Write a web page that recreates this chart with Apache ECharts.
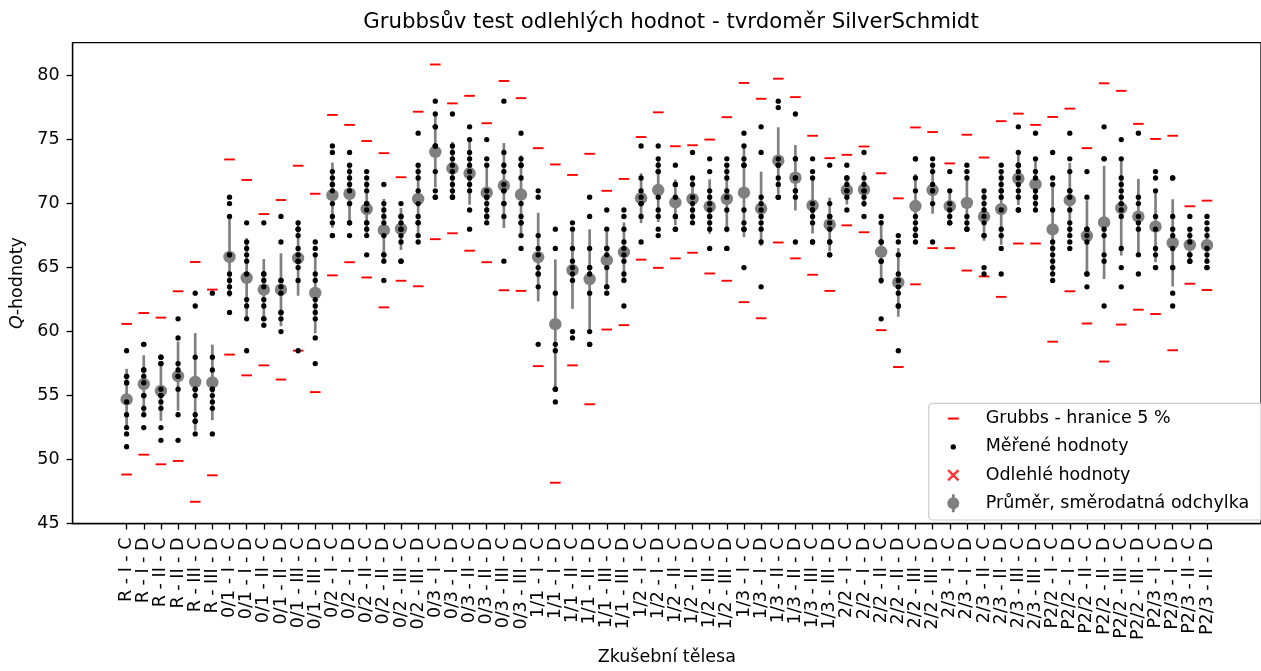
<!DOCTYPE html>
<html>
<head>
<meta charset="utf-8">
<title>Grubbsův test odlehlých hodnot</title>
<script src="https://cdn.jsdelivr.net/npm/echarts@6.0.0/dist/echarts.min.js"></script>
<style>
  html, body { margin: 0; padding: 0; background: #fff; }
  #chart { width: 1261px; height: 671px; }
</style>
</head>
<body>
<div id="chart"></div>
<script>
// zkušební tělesa ----------------------------------------------------------
var categories = [
  'R - I - C', 'R - I - D', 'R - II - C', 'R - II - D', 'R - III - C', 'R - III - D',
  '0/1 - I - C', '0/1 - I - D', '0/1 - II - C', '0/1 - II - D', '0/1 - III - C', '0/1 - III - D',
  '0/2 - I - C', '0/2 - I - D', '0/2 - II - C', '0/2 - II - D', '0/2 - III - C', '0/2 - III - D',
  '0/3 - I - C', '0/3 - I - D', '0/3 - II - C', '0/3 - II - D', '0/3 - III - C', '0/3 - III - D',
  '1/1 - I - C', '1/1 - I - D', '1/1 - II - C', '1/1 - II - D', '1/1 - III - C', '1/1 - III - D',
  '1/2 - I - C', '1/2 - I - D', '1/2 - II - C', '1/2 - II - D', '1/2 - III - C', '1/2 - III - D',
  '1/3 - I - C', '1/3 - I - D', '1/3 - II - C', '1/3 - II - D', '1/3 - III - C', '1/3 - III - D',
  '2/2 - I - C', '2/2 - I - D', '2/2 - II - C', '2/2 - II - D', '2/2 - III - C', '2/2 - III - D',
  '2/3 - I - C', '2/3 - I - D', '2/3 - II - C', '2/3 - II - D', '2/3 - III - C', '2/3 - III - D',
  'P2/2 - I - C', 'P2/2 - I - D', 'P2/2 - II - C', 'P2/2 - II - D', 'P2/2 - III - C', 'P2/2 - III - D',
  'P2/3 - I - C', 'P2/3 - I - D', 'P2/3 - II - C', 'P2/3 - II - D'
];

// naměřené Q-hodnoty pro každé těleso
var measured = [
  [58.5, 56.5, 56.5, 56, 56, 54.5, 53.5, 52.5, 52, 51],
  [59, 59, 57, 57, 56.5, 56, 55, 55, 54, 53.5, 52.5],
  [58, 58, 57.5, 57.5, 55.5, 55, 55, 54.5, 54, 52.5, 51.5],
  [61, 59.5, 57.5, 57, 56.5, 56.5, 55.5, 53.5, 51.5],
  [63, 62, 58, 55.5, 55.5, 55, 53.5, 53, 53, 52],
  [63, 58, 57, 55.5, 55.5, 55, 54.5, 54, 52],
  [70.5, 70, 69, 66, 66, 64.5, 64, 63.5, 63, 61.5],
  [68.5, 67, 66.5, 66, 65.5, 64.5, 62.5, 62, 61, 58.5],
  [68.5, 64.5, 64.5, 64, 63.5, 62.5, 62, 61, 61, 60.5],
  [69, 67, 64, 64, 63.5, 63, 61.5, 61.5, 61, 60],
  [68.5, 68, 68, 67.5, 66.5, 66, 65.5, 65.5, 65, 64, 58.5],
  [67, 66.5, 66, 64.5, 64, 62.5, 62, 61.5, 61, 59.5, 57.5],
  [74.5, 74, 72.5, 72, 71.5, 71.5, 71, 70, 69, 68.5, 67.5, 67.5],
  [74, 73, 72.5, 72, 71.5, 71, 70, 70, 68.5, 68.5, 67.5],
  [72.5, 72, 71.5, 71, 70, 70, 69.5, 68.5, 68.5, 68, 67.5, 66],
  [71.5, 70, 69.5, 69, 68.5, 67.5, 66, 66, 65.5, 64],
  [70, 69, 69, 68.5, 68, 68, 67.5, 67, 65.5, 65.5],
  [75.5, 73, 72.5, 72, 71, 70, 69, 68.5, 68.5, 67.5, 67],
  [78, 77, 76, 76, 74.5, 74.5, 72.5, 71, 70.5, 70.5],
  [77, 74.5, 74, 73.5, 73, 72.5, 72, 71.5, 71, 70.5, 70.5],
  [76, 75, 74, 73.5, 73, 72.5, 72, 71.5, 71, 69.5, 68],
  [75, 73.5, 73, 71, 70.5, 70.5, 70, 69.5, 69, 69, 68.5],
  [78, 74, 73, 72.5, 71.5, 71, 71, 70, 70, 69, 65.5],
  [75.5, 73.5, 73, 73, 72, 70, 69, 68.5, 68.5, 67.5, 66.5],
  [71, 70.5, 67.5, 66.5, 66, 65, 64.5, 64.5, 63.5, 59],
  [68, 66.5, 63, 59, 58.5, 55.5, 55.5, 54.5],
  [68.5, 68, 66.5, 65.5, 65, 64.5, 64, 60, 59.5],
  [70.5, 69, 66.5, 65, 65, 64.5, 63, 60, 59, 59],
  [69.5, 68, 66.5, 66.5, 66, 65, 63.5, 63.5, 63],
  [69.5, 69, 68, 67, 66.5, 66, 65.5, 64.5, 64, 62],
  [74.5, 72, 71, 70.5, 70, 70, 69, 67],
  [74.5, 73.5, 73, 72.5, 72.5, 70.5, 69.5, 69, 68, 67.5],
  [73, 71.5, 71.5, 70.5, 69, 69, 68, 68],
  [74, 72, 71.5, 70.5, 70, 69.5, 69, 68.5],
  [73.5, 72.5, 71, 70.5, 70, 69.5, 69, 69, 68.5, 68, 66.5],
  [73.5, 73, 72.5, 72, 71, 70.5, 69.5, 68, 66.5, 66.5],
  [75.5, 74.5, 73.5, 73, 73, 69.5, 68.5, 68, 68, 65],
  [76, 74, 70.5, 70, 69.5, 69, 68.5, 68, 67, 63.5],
  [78, 77.5, 73.5, 73, 73, 72, 71.5, 70.5, 70.5],
  [77, 73.5, 73.5, 72, 72, 71, 71, 70.5, 67],
  [73.5, 72.5, 72, 70, 69.5, 69.5, 69, 68.5, 67, 67],
  [73, 70, 69, 69, 68.5, 68, 67, 67, 66, 66],
  [73, 72, 72, 71.5, 71, 71, 70.5, 69.5],
  [74, 72, 71.5, 71, 71, 70.5, 70, 69],
  [69, 68.5, 67, 67, 65.5, 65.5, 64, 61],
  [67.5, 67, 66, 64.5, 64, 63.5, 63, 62, 62, 58.5],
  [73.5, 73.5, 72, 71, 69, 68.5, 68, 67.5, 67.5, 67],
  [73.5, 73, 72.5, 71.5, 71, 71, 70, 67],
  [72.5, 71, 70, 69.5, 69, 68.5, 68.5],
  [73, 72.5, 72, 69, 68.5, 68, 68],
  [71, 70.5, 70, 69.5, 69, 68.5, 67.5, 67.5, 65, 64.5],
  [73, 72.5, 72, 71.5, 71, 71, 70.5, 69.5, 68, 67.5, 66.5, 64.5],
  [76, 74, 73, 73, 72.5, 72, 71.5, 71, 70.5, 69.5, 69.5],
  [75.5, 73.5, 72.5, 72, 71, 70.5, 70.5, 70, 69.5],
  [74, 72, 71.5, 69.5, 67, 66.5, 66, 65.5, 65, 64.5, 64],
  [75.5, 73.5, 72.5, 71, 71, 70.5, 69.5, 68.5, 68, 67.5, 67, 66.5],
  [72.5, 70.5, 68, 68, 67.5, 67, 64.5, 64.5, 63.5],
  [76, 73.5, 73.5, 68, 67.5, 66, 65.5, 62],
  [75, 73.5, 72, 71.5, 71, 70.5, 70, 69.5, 69, 66.5, 65, 63.5],
  [75.5, 70.5, 70, 69, 68.5, 68, 66, 64.5],
  [72.5, 72, 71, 69, 68, 66.5, 66, 65, 65],
  [72, 72, 69, 68, 67.5, 66.5, 65, 65, 63, 62],
  [69, 68, 67.5, 67, 66, 66, 65.5, 65.5],
  [69, 68.5, 68, 67.5, 66.5, 66, 65.5, 65, 65]
];

// průměr a směrodatná odchylka
var means = [
  54.7, 55.9, 55.36, 56.52, 56.07, 56.03, 65.83, 64.2, 63.27, 63.27, 65.74, 63.02,
  70.66, 70.77, 69.57, 67.92, 68.02, 70.36, 74.04, 72.76, 72.37, 70.85, 71.41, 70.71,
  65.82, 60.58, 64.8, 64.1, 65.58, 66.21, 70.42, 71.06, 70.1, 70.36, 69.77, 70.36,
  70.86, 69.6, 73.36, 72.02, 69.86, 68.36, 71.05, 71.1, 66.22, 63.84, 69.81, 71.06,
  69.8, 70.06, 68.99, 69.57, 71.96, 71.52, 67.98, 70.27, 67.48, 68.53, 69.65, 68.98,
  68.2, 66.93, 66.77, 66.75
];
var stds = [
  2.39, 2.25, 2.33, 2.7, 3.81, 2.95, 3.1, 3.1, 2.4, 2.85, 2.94, 3.15,
  2.55, 2.18, 2.17, 2.45, 1.64, 2.77, 2.77, 2.06, 2.46, 2.21, 3.32, 3.06,
  3.46, 5.06, 3.02, 3.89, 2.2, 2.32, 1.95, 2.5, 1.78, 1.71, 2.13, 2.6,
  3.48, 2.9, 2.6, 2.56, 2.2, 2.1, 1.12, 1.36, 2.5, 2.68, 2.49, 1.85,
  1.35, 2.15, 1.89, 2.79, 2.06, 1.88, 3.57, 2.9, 2.78, 4.42, 3.71, 2.95,
  2.78, 3.41, 1.23, 1.42
];

// Grubbs - hranice 5 % (horní / dolní)
var grubbsHigh = [
  60.6, 61.45, 61.09, 63.15, 65.44, 63.28, 73.45, 71.85, 69.18, 70.28, 72.96, 70.77,
  76.93, 76.15, 74.89, 73.94, 72.06, 77.18, 80.87, 77.83, 78.42, 76.28, 79.58, 78.24,
  74.33, 73.06, 72.24, 73.89, 71.0, 71.93, 75.2, 77.13, 74.48, 74.56, 75.0, 76.75,
  79.43, 78.19, 79.76, 78.32, 75.3, 73.55, 73.81, 74.46, 72.37, 70.41, 75.95, 75.59,
  73.14, 75.38, 73.6, 76.44, 77.03, 76.15, 76.77, 77.42, 74.33, 79.4, 78.81, 76.23,
  75.05, 75.3, 69.79, 70.23
];
var grubbsLow = [
  48.83, 50.38, 49.63, 49.89, 46.7, 48.77, 58.2, 56.58, 57.36, 56.25, 58.51, 55.27,
  64.39, 65.42, 64.23, 61.89, 63.97, 63.54, 67.22, 67.68, 66.32, 65.42, 63.23, 63.18,
  57.3, 48.19, 57.36, 54.32, 60.16, 60.5, 65.62, 64.98, 65.72, 66.16, 64.54, 63.97,
  62.3, 61.04, 66.96, 65.72, 64.44, 63.18, 68.3, 67.76, 60.11, 57.23, 63.69, 66.52,
  66.52, 64.77, 64.31, 62.71, 66.88, 66.88, 59.21, 63.15, 60.63, 57.66, 60.55, 61.71,
  61.37, 58.54, 63.74, 63.25
];

// odlehlé hodnoty - žádné nalezeny
var outliers = [];

var yTicks = [45, 50, 55, 60, 65, 70, 75, 80];

(function () {
  var FONT = 'DejaVu Sans';
  var crossPath = 'path://M0,1.4L1.4,0L5,3.6L8.6,0L10,1.4L6.4,5L10,8.6L8.6,10L5,6.4L1.4,10L0,8.6L3.6,5Z';
  var meanIconPath = 'path://M4.6,0L7.4,0L7.4,3.5L4.6,3.5Z M4.6,14.5L7.4,14.5L7.4,18L4.6,18Z M0,9A6,6,0,1,1,12,9A6,6,0,1,1,0,9Z';

  var xTicks = [];
  var pointData = [];
  var grubbsData = [];
  var meanData = [];
  var barData = [];
  for (var i = 0; i < categories.length; i++) {
    xTicks.push(i);
    for (var j = 0; j < measured[i].length; j++) {
      pointData.push([i, measured[i][j]]);
    }
    grubbsData.push([i, grubbsHigh[i]]);
    grubbsData.push([i, grubbsLow[i]]);
    meanData.push([i, means[i]]);
    barData.push([i, means[i] - stds[i], means[i] + stds[i]]);
  }
  // prázdné krajní popisky, aby echarts neschovával první/poslední kategorii
  var xLabelValues = [-3].concat(xTicks, [66]);

  // jedna legenda pro každou položku, aby měly ikony vlastní velikost
  function legendRow(name, icon, color, w, h, rowY, boxH) {
    var iconX = 953.3, textX = 985.7;
    var left = iconX - w / 2;
    return {
      data: [{ name: name, icon: icon, itemStyle: { color: color } }],
      left: left,
      top: rowY - boxH / 2,
      padding: 0,
      itemWidth: w,
      itemHeight: h,
      selectedMode: false,
      textStyle: {
        fontFamily: FONT, fontSize: 17.5, color: '#000',
        padding: [0, 0, 0, textX - (left + w + 5)]
      }
    };
  }

  var chart = echarts.init(document.getElementById('chart'));
  chart.setOption({
    backgroundColor: '#fff',
    animation: false,
    title: {
      text: 'Grubbsův test odlehlých hodnot - tvrdoměr SilverSchmidt',
      left: 671,
      top: 12,
      padding: 0,
      textAlign: 'center',
      textStyle: { fontFamily: FONT, fontSize: 21.3, fontWeight: 'normal', color: '#000' }
    },
    grid: {
      left: 72.6, top: 42.6, width: 1196.8, height: 486.4,
      show: true, borderColor: '#000', borderWidth: 1.3, backgroundColor: 'transparent'
    },
    legend: [
      legendRow('Grubbs - hranice 5 %', 'rect', '#ff0000', 11, 2, 418.3, 17.5),
      legendRow('Měřené hodnoty', 'circle', '#000', 5.3, 5.3, 446.7, 17.5),
      legendRow('Odlehlé hodnoty', crossPath, '#ff0000', 12, 12, 475.0, 17.5),
      legendRow('Průměr, směrodatná odchylka', meanIconPath, '#808080', 12, 18, 503.3, 18)
    ],
    graphic: [{
      type: 'rect',
      z: 3.5,
      shape: { x: 928.7, y: 403.3, width: 345, height: 116.7, r: 4 },
      style: { fill: 'rgba(255,255,255,0.8)', stroke: '#cccccc', lineWidth: 1.2 }
    }],
    xAxis: {
      type: 'value',
      min: -3.15,
      max: 66.15,
      name: 'Zkušební tělesa',
      nameLocation: 'middle',
      nameGap: 123,
      nameTextStyle: { fontFamily: FONT, fontSize: 17.5, color: '#000' },
      axisLine: { onZero: false, lineStyle: { color: '#000', width: 1.3 } },
      axisTick: { customValues: xTicks, length: 6, lineStyle: { color: '#000', width: 1.3 } },
      axisLabel: {
        customValues: xLabelValues,
        rotate: 90,
        margin: 14,
        showMinLabel: false,
        showMaxLabel: false,
        hideOverlap: false,
        fontFamily: FONT, fontSize: 17.5, color: '#000',
        formatter: function (v) { return categories[Math.round(v)] || ''; }
      },
      splitLine: { show: false }
    },
    yAxis: {
      type: 'value',
      min: 45,
      max: 82.58,
      name: '{q|Q}-hodnoty',
      nameLocation: 'middle',
      nameGap: 46,
      nameTextStyle: {
        fontFamily: FONT, fontSize: 17.5, color: '#000',
        rich: { q: { fontFamily: FONT, fontSize: 17.5, fontStyle: 'italic', color: '#000' } }
      },
      axisLine: { show: true, onZero: false, lineStyle: { color: '#000', width: 1.3 } },
      axisTick: { customValues: yTicks, length: 6, lineStyle: { color: '#000', width: 1.3 } },
      axisLabel: {
        customValues: yTicks,
        margin: 13,
        showMinLabel: true,
        showMaxLabel: true,
        fontFamily: FONT, fontSize: 17.5, color: '#000'
      },
      splitLine: { show: false }
    },
    series: [
      {
        name: 'Průměr, směrodatná odchylka',
        type: 'custom',
        z: 1,
        itemStyle: { color: '#808080' },
        encode: { x: 0, y: [1, 2] },
        data: barData,
        renderItem: function (params, api) {
          var lo = api.coord([api.value(0), api.value(1)]);
          var hi = api.coord([api.value(0), api.value(2)]);
          return {
            type: 'line',
            shape: { x1: lo[0], y1: lo[1], x2: hi[0], y2: hi[1] },
            style: { stroke: '#808080', lineWidth: 2.7 }
          };
        }
      },
      {
        name: 'Průměr, směrodatná odchylka',
        type: 'scatter',
        z: 2,
        symbol: 'circle',
        symbolSize: 12.4,
        itemStyle: { color: '#808080', opacity: 1 },
        data: meanData
      },
      {
        name: 'Grubbs - hranice 5 %',
        type: 'scatter',
        z: 3,
        symbol: 'rect',
        symbolSize: [10.6, 1.9],
        itemStyle: { color: '#ff0000', opacity: 1 },
        data: grubbsData
      },
      {
        name: 'Měřené hodnoty',
        type: 'scatter',
        z: 3,
        symbol: 'circle',
        symbolSize: 5.3,
        itemStyle: { color: '#000', opacity: 1 },
        data: pointData
      },
      {
        name: 'Odlehlé hodnoty',
        type: 'scatter',
        z: 3,
        symbol: crossPath,
        symbolSize: 11,
        itemStyle: { color: '#ff0000' },
        data: outliers
      }
    ]
  });
})();
</script>
</body>
</html>
